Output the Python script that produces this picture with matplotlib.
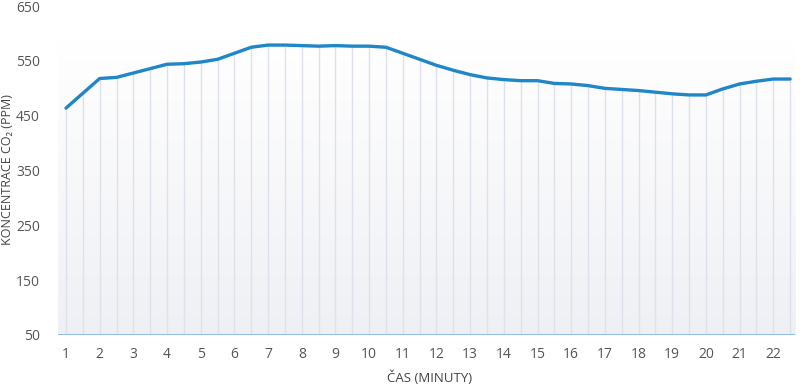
import matplotlib
matplotlib.use("Agg")
import matplotlib.pyplot as plt
import numpy as np
from matplotlib.colors import LinearSegmentedColormap

minutes = [1 + 0.5 * i for i in range(44)]
co2 = [464, 491, 518, 520, 528, 536, 544, 545, 548, 553, 564, 575,
       579, 579, 578, 577, 578, 577, 577, 575, 564, 553, 542, 533,
       525, 519, 516, 514, 514, 509, 508, 505, 500, 498, 496, 493,
       490, 488, 488, 499, 508, 513, 517, 517]
xticks = list(range(1, 23))
yticks = [50, 150, 250, 350, 450, 550, 650]

fam = ['Open Sans', 'DejaVu Sans']
plt.rcParams['font.family'] = fam

fig = plt.figure(figsize=(8, 3.85), dpi=100)
ax = fig.add_axes([0.0725, 0.130, 0.9215, 0.854])
x0, x1 = 0.763, 22.65
ax.set_xlim(x0, x1)
ax.set_ylim(50, 650)

# gradient background
cmap = LinearSegmentedColormap.from_list('g', ['#eff0f5', '#ffffff'])
grad = np.linspace(0, 1, 256).reshape(-1, 1)
ax.imshow(grad, extent=[x0, x1, 50, 585], origin='lower', cmap=cmap,
          aspect='auto', zorder=0)

ax.vlines(minutes, 50, co2, colors='#dde1ec', linewidth=1.0, zorder=1)
ax.axhline(50, color='#7ab4e3', linewidth=1.2, zorder=2)
ax.plot(minutes, co2, color='#1f86c8', linewidth=2.4, solid_capstyle='round',
        solid_joinstyle='round', zorder=3)

for s in ax.spines.values():
    s.set_visible(False)
ax.set_xticks(xticks)
ax.set_yticks(yticks)
ax.tick_params(length=0, labelsize=10, colors='#555555')
ax.tick_params(axis='y', pad=13)
ax.tick_params(axis='x', pad=9)
fig.text(0.5375, 0.0195, 'ČAS (MINUTY)', fontsize=9.5, color='#444444',
         ha='center', va='center')
fig.text(0.009, 1 - 170 / 385, 'KONCENTRACE CO₂ (PPM)', fontsize=9,
         color='#444444', ha='center', va='center', rotation=90)

fig.savefig('out.png', dpi=100)
